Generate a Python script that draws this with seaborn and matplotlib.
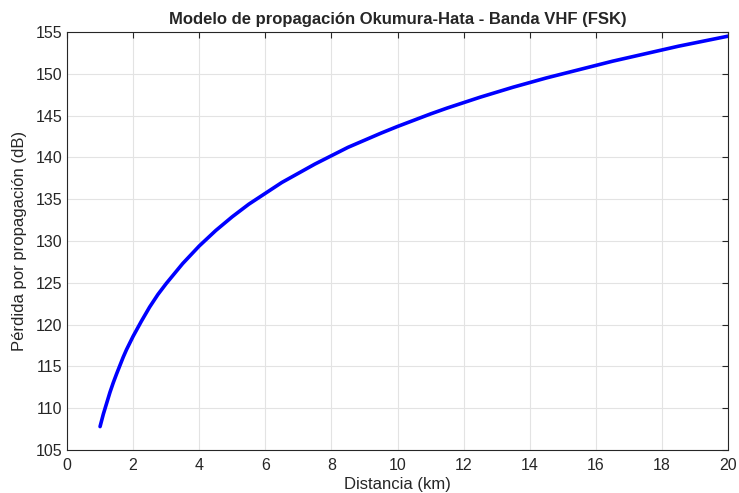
import matplotlib
matplotlib.use("Agg")
import matplotlib.pyplot as plt
import seaborn as sns
import pandas as pd

# Values
distancia_km = [1.0, 1.1, 1.2, 1.3, 1.4, 1.5, 1.6, 1.7, 1.8, 1.9, 2.0, 2.25,
                2.5, 2.75, 3.0, 3.5, 4.0, 4.5, 5.0, 5.5, 6.0, 6.5, 7.0, 7.5,
                8.0, 8.5, 9.0, 9.5, 10.0, 10.5, 11.0, 11.5, 12.0, 12.5, 13.0,
                13.5, 14.0, 14.5, 15.0, 15.5, 16.0, 16.5, 17.0, 17.5, 18.0,
                18.5, 19.0, 19.5, 20.0]
perdida_db = [107.8, 109.3, 110.6, 111.9, 113.05, 114.1, 115.1, 116.1, 117.0,
              117.8, 118.6, 120.4, 122.1, 123.6, 124.9, 127.3, 129.4, 131.25,
              132.9, 134.4, 135.7, 137.0, 138.1, 139.2, 140.2, 141.2, 142.05,
              142.9, 143.7, 144.45, 145.2, 145.9, 146.55, 147.2, 147.8, 148.4,
              148.95, 149.5, 150.0, 150.5, 151.0, 151.5, 151.95, 152.4, 152.85,
              153.3, 153.7, 154.1, 154.5]
x_ticks = [0, 2, 4, 6, 8, 10, 12, 14, 16, 18, 20]
y_ticks = [105, 110, 115, 120, 125, 130, 135, 140, 145, 150, 155]

sns.set_theme(style="white")
plt.rcParams['font.family'] = ['Liberation Sans', 'DejaVu Sans']

df = pd.DataFrame({"d": distancia_km, "L": perdida_db})

fig = plt.figure(figsize=(7.39, 4.93), dpi=100)
ax = fig.add_axes([67/739, 1 - 450/493, (728 - 67)/739, (450 - 32)/493])

sns.lineplot(data=df, x="d", y="L", ax=ax, color="#0000ff", linewidth=2.6)

ax.set_xlim(0, 20)
ax.set_ylim(105, 155)
ax.set_xticks(x_ticks)
ax.set_yticks(y_ticks)
ax.grid(True, color="#e3e3e3", linewidth=0.8)
ax.set_axisbelow(True)
for s in ax.spines.values():
    s.set_color("#262626")
    s.set_linewidth(0.8)
    s.set_visible(True)
ax.tick_params(direction="in", length=4, width=0.8, colors="#262626",
               labelsize=11.5, top=True, right=True, labelcolor="#262626")
ax.tick_params(axis="x", pad=6)
ax.set_xlabel("Distancia (km)", fontsize=12, color="#262626", labelpad=3)
ax.set_ylabel("Pérdida por propagación (dB)", fontsize=12, color="#262626", labelpad=6)
ax.set_title("Modelo de propagación Okumura-Hata - Banda VHF (FSK)",
             fontsize=12, fontweight="bold", color="#262626", pad=6)

fig.savefig("out.png", dpi=100, facecolor="white")
